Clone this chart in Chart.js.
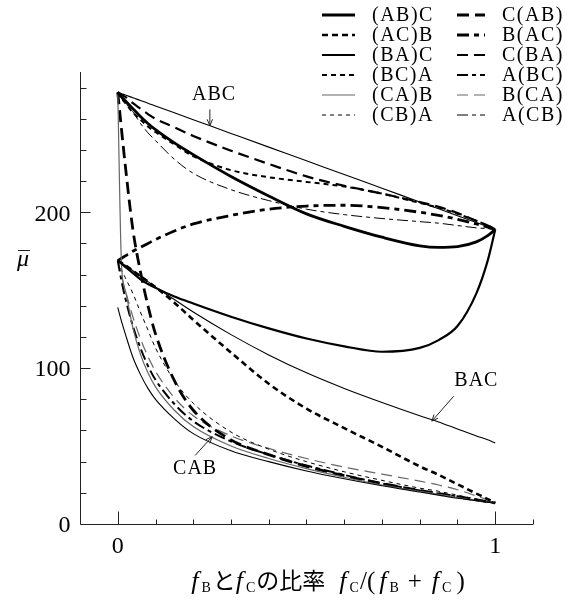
<!DOCTYPE html>
<html>
<head>
<meta charset="utf-8">
<script src="https://cdn.jsdelivr.net/npm/chart.js@4.4.1/dist/chart.umd.min.js"></script>
<style>
  html, body { margin: 0; padding: 0; background: #fff; }
</style>
</head>
<body>
<canvas id="muChart" width="577" height="603"></canvas>
<script>
// ratio f_C/(f_B+f_C) sampled along the x axis
const fracs = [0, 0.01, 0.02, 0.04, 0.06, 0.08, 0.1, 0.15, 0.2, 0.3, 0.4, 0.5, 0.6, 0.7, 0.8, 0.85, 0.9, 0.95, 0.98, 1];

// mean values, one array per ordering
const abC = [277, 274, 271.5, 266.5, 261.5, 257, 253, 244.5, 237, 223, 210.5, 199, 191, 184, 178.5, 177.5, 178, 181, 185, 189];
const acB = [169, 167.5, 166, 162.5, 159, 155.5, 152, 142, 131, 110, 90, 74, 61.5, 49.5, 37, 31.5, 25.5, 19.5, 16, 13.5];
const baC = [169, 167, 165, 161, 157, 154, 151.5, 146, 141.5, 133, 125.5, 119, 114, 110.5, 113, 118, 127, 148, 169, 189];
const bcA = [277, 273, 270, 264, 259.5, 255, 251.5, 243.5, 236, 227, 222.5, 219.5, 216.5, 212, 206, 203, 199, 194.5, 191.5, 189];
const caB = [277, 166, 150, 126, 109, 97, 88, 73, 62.5, 50, 42, 35.5, 30, 25, 21, 19, 17, 15, 14, 13.5];
const cbA = [169, 163, 158, 148, 136, 124.5, 113, 92, 77.5, 59, 48, 40, 33.5, 28, 23, 21, 18.5, 16, 14.5, 13.5];
const cAB = [277, 253, 230, 189, 162, 140, 122, 92, 73, 54, 44.5, 37, 31, 26, 21.5, 19.5, 17.5, 15.5, 14.2, 13.5];
const bAC = [169, 170.5, 172, 175, 177.5, 180, 182.5, 188, 192.5, 198, 202, 204, 204.5, 203, 200, 198, 195.5, 192.5, 190.5, 189];
const cBA = [277, 275.5, 274, 270, 266.5, 263, 260, 254.5, 249, 239.5, 231, 223, 217, 212, 206.5, 203.5, 199.5, 194.5, 191.5, 189];
const aBC = [169, 156, 145, 127, 113, 101.5, 92.5, 77, 66, 53, 44.5, 37.5, 31.5, 26, 21.5, 19.5, 17.5, 15.5, 14.2, 13.5];
const bCA = [169, 159, 150, 133, 119, 107.5, 98, 81, 69.5, 56.5, 48.5, 42, 36.5, 32, 27.5, 25, 22, 18, 15.5, 13.5];
const aCB = [277, 273, 270, 264.5, 257, 251, 246, 234, 225, 214.5, 207.5, 202, 198.5, 196, 194, 193, 191.5, 190, 189.5, 189];
// ungrouped orderings marked with arrows
const abc = [277, 276.1, 275.2, 273.5, 271.7, 270, 268.2, 263.8, 259.4, 250.6, 241.8, 233, 224.2, 215.4, 206.6, 202.2, 197.8, 193.4, 190.8, 189];
const bac = [169, 167.5, 166, 162.5, 159, 155.5, 152, 144, 136, 121.5, 108.5, 97, 87, 78, 69.5, 65.5, 61, 56.5, 54, 52];
const cab = [139, 130, 122, 107, 96, 87, 80, 67.5, 58, 47, 40, 34, 29, 24.5, 20.5, 18.5, 16.5, 15, 14, 13.5];

const legendLabels = ['(AB)C', '(AC)B', '(BA)C', '(BC)A', '(CA)B', '(CB)A', 'C(AB)', 'B(AC)', 'C(BA)', 'A(BC)', 'B(CA)', 'A(CB)'];
const legendData = [abC, acB, baC, bcA, caB, cbA, cAB, bAC, cBA, aBC, bCA, aCB];
const extraLabels = ['ABC', 'BAC', 'CAB'];
const extraData = [abc, bac, cab];

const yMinorTicks = [20, 40, 60, 80, 100, 120, 140, 160, 180, 200, 220, 240, 260, 280];
const yTickLabels = [0, 100, 200];
const xMinorTicks = [0, 0.1, 0.2, 0.3, 0.4, 0.5, 0.6, 0.7, 0.8, 0.9, 1, 1.1];
const xTickLabels = [0, 1];

const lineStyles = {
  '(AB)C': { w: 2.8, dash: [], color: '#000' },
  '(AC)B': { w: 2.6, dash: [6, 4], color: '#000' },
  '(BA)C': { w: 2.2, dash: [], color: '#000' },
  '(BC)A': { w: 2.0, dash: [5, 4], color: '#000' },
  '(CA)B': { w: 1.2, dash: [], color: '#666' },
  '(CB)A': { w: 1.0, dash: [4, 4], color: '#000' },
  'C(AB)': { w: 2.8, dash: [12, 6], color: '#000' },
  'B(AC)': { w: 2.8, dash: [12, 5, 5, 5], color: '#000' },
  'C(BA)': { w: 2.2, dash: [11, 6], color: '#000' },
  'A(BC)': { w: 2.0, dash: [11, 4, 4, 4], color: '#000' },
  'B(CA)': { w: 1.2, dash: [11, 6], color: '#666' },
  'A(CB)': { w: 1.0, dash: [11, 4, 4, 4], color: '#000' },
  'ABC': { w: 1.1, dash: [], color: '#000' },
  'BAC': { w: 1.1, dash: [], color: '#000' },
  'CAB': { w: 1.1, dash: [], color: '#000' }
};

// label text position and arrow tail/tip, in data units
const notes = [
  { text: 'ABC', tx: 0.255, ty: 275.5, ax: 0.244, ay: 266, bx: 0.244, by: 255.5 },
  { text: 'BAC', tx: 0.95, ty: 92, ax: 0.89, ay: 82, bx: 0.832, by: 66 },
  { text: 'CAB', tx: 0.205, ty: 35.5, ax: 0.205, ay: 44, bx: 0.25, by: 56 }
];

const SERIF = '"Liberation Serif", "DejaVu Serif", serif';
const JP = '"Noto Sans CJK JP", sans-serif';

function toPoints(arr) {
  return arr.map((v, i) => ({ x: fracs[i], y: v }));
}

function makeDataset(label, arr, hidden) {
  const s = lineStyles[label];
  return {
    label: label,
    data: toPoints(arr),
    borderColor: s.color,
    borderWidth: s.w,
    borderDash: s.dash,
    pointRadius: 0,
    fill: false,
    cubicInterpolationMode: 'monotone',
    inLegend: !hidden
  };
}

const datasets = [];
extraLabels.forEach((l, i) => datasets.push(makeDataset(l, extraData[i], true)));
legendLabels.forEach((l, i) => datasets.push(makeDataset(l, legendData[i], false)));

function arrow(ctx, x1, y1, x2, y2) {
  ctx.beginPath();
  ctx.moveTo(x1, y1);
  ctx.lineTo(x2, y2);
  ctx.stroke();
  const a = Math.atan2(y2 - y1, x2 - x1);
  const L = 7, W = 0.4;
  ctx.beginPath();
  ctx.moveTo(x2, y2);
  ctx.lineTo(x2 - L * Math.cos(a - W), y2 - L * Math.sin(a - W));
  ctx.moveTo(x2, y2);
  ctx.lineTo(x2 - L * Math.cos(a + W), y2 - L * Math.sin(a + W));
  ctx.stroke();
}

const decor = {
  id: 'decor',
  afterDatasetsDraw(chart) {
    const ctx = chart.ctx;
    const xs = chart.scales.x, ys = chart.scales.y;
    const left = Math.round(xs.left) + 0.5, bottom = Math.round(ys.bottom) + 0.5;
    ctx.save();

    // axes
    ctx.strokeStyle = '#222';
    ctx.lineWidth = 1;
    ctx.setLineDash([]);
    ctx.beginPath();
    ctx.moveTo(left, ys.top);
    ctx.lineTo(left, bottom);
    ctx.lineTo(xs.right, bottom);
    ctx.stroke();

    // inward ticks
    ctx.beginPath();
    yMinorTicks.forEach(v => {
      const py = Math.round(ys.getPixelForValue(v)) + 0.5;
      const len = yTickLabels.includes(v) ? 10 : 6;
      ctx.moveTo(left, py);
      ctx.lineTo(left + len, py);
    });
    xMinorTicks.forEach(v => {
      const px = Math.round(xs.getPixelForValue(v)) + 0.5;
      const len = xTickLabels.includes(v) ? 13 : 5;
      ctx.moveTo(px, bottom);
      ctx.lineTo(px, bottom - len);
    });
    ctx.stroke();

    // tick labels
    ctx.fillStyle = '#000';
    ctx.font = '24px ' + SERIF;
    ctx.textAlign = 'right';
    ctx.textBaseline = 'middle';
    yTickLabels.forEach(v => {
      ctx.fillText(String(v), left - 10, ys.getPixelForValue(v) + 2);
    });
    ctx.textAlign = 'center';
    ctx.textBaseline = 'top';
    xTickLabels.forEach(v => {
      ctx.fillText(String(v), xs.getPixelForValue(v), bottom + 10);
    });

    // y title: mu with bar
    ctx.font = 'italic 24px ' + SERIF;
    ctx.textAlign = 'center';
    ctx.textBaseline = 'alphabetic';
    ctx.fillText('μ', 23, 266);
    ctx.beginPath();
    ctx.moveTo(18, 250.5);
    ctx.lineTo(30, 250.5);
    ctx.stroke();

    // x title with subscripts: [text, font, baseline shift, gap after]
    const sub = '14px ' + SERIF, it = 'italic 26px ' + SERIF, rm = '25px ' + SERIF, jp = '23px ' + JP;
    const pieces = [
      ['f', it, 0, 3], ['B', sub, 3, 2], ['と', jp, 0, 0], ['f', it, 0, 3], ['C', sub, 3, 1],
      ['の比率', jp, 0, 14],
      ['f', it, 0, 3], ['C', sub, 3, 1], ['/(', rm, 0, 4], ['f', it, 0, 3], ['B', sub, 3, 9],
      ['+', rm, 0, 10], ['f', it, 0, 3], ['C', sub, 3, 5], [')', rm, 0, 0]
    ];
    let total = 0;
    pieces.forEach(p => { ctx.font = p[1]; total += ctx.measureText(p[0]).width + p[3]; });
    let cx = 328 - total / 2;
    ctx.textAlign = 'left';
    pieces.forEach(p => {
      ctx.font = p[1];
      ctx.fillText(p[0], cx, 589 + p[2]);
      cx += ctx.measureText(p[0]).width + p[3];
    });

    // annotations
    ctx.font = '20px ' + SERIF;
    ctx.letterSpacing = '1px';
    ctx.textAlign = 'center';
    ctx.textBaseline = 'middle';
    ctx.lineWidth = 1;
    notes.forEach(n => {
      ctx.fillText(n.text, xs.getPixelForValue(n.tx), ys.getPixelForValue(n.ty));
      arrow(ctx, xs.getPixelForValue(n.ax), ys.getPixelForValue(n.ay),
        xs.getPixelForValue(n.bx), ys.getPixelForValue(n.by));
    });

    // legend, two columns of six
    ctx.font = '20px ' + SERIF;
    ctx.letterSpacing = '1.5px';
    ctx.textAlign = 'left';
    ctx.textBaseline = 'middle';
    const cols = [{ l0: 322, l1: 355, t: 372 }, { l0: 457, l1: 485, t: 502 }];
    chart.data.datasets.filter(d => d.inLegend).forEach((d, i) => {
      const c = cols[Math.floor(i / 6)];
      const y = 15 + (i % 6) * 20;
      ctx.strokeStyle = d.borderColor;
      ctx.lineWidth = d.borderWidth;
      ctx.setLineDash(d.borderDash);
      ctx.beginPath();
      ctx.moveTo(c.l0, y);
      ctx.lineTo(c.l1, y);
      ctx.stroke();
      ctx.fillText(d.label, c.t, y + 1);
    });
    ctx.restore();
  }
};

new Chart(document.getElementById('muChart'), {
  type: 'line',
  data: { datasets: datasets },
  options: {
    responsive: false,
    devicePixelRatio: 1,
    animation: false,
    layout: { padding: { left: 80, right: 44, top: 72, bottom: 79 } },
    plugins: { legend: { display: false }, tooltip: { enabled: false } },
    scales: {
      x: { type: 'linear', min: -0.1, max: 1.1, display: false },
      y: { type: 'linear', min: 0, max: 290, display: false }
    }
  },
  plugins: [decor]
});
</script>
</body>
</html>
